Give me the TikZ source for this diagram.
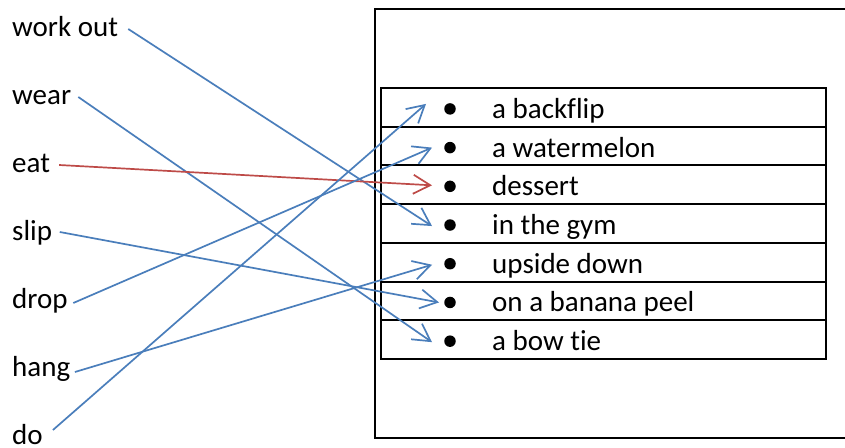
\documentclass[tikz,border=0pt]{standalone}
\usepackage{fontspec}
\setmainfont{Carlito}[Ligatures={NoCommon}]
\usetikzlibrary{arrows.meta}
\definecolor{lblue}{HTML}{4A7EBB}
\definecolor{lred}{HTML}{BE4B48}
\begin{document}
\begin{tikzpicture}[x=1pt,y=-1pt,
  lbl/.style={anchor=base west, inner sep=0pt, font=\fontsize{29}{34}\selectfont},
  rowbox/.style={draw, line width=2pt, minimum width=445pt, minimum height=38.71pt, inner sep=0pt},
  dotmark/.style={circle, fill=black, inner sep=0pt, minimum size=11.5pt},
  conn/.style={line width=1.7pt, draw=lblue, -{Straight Barb[length=17pt,width=19pt,line width=1.7pt]}},
  connred/.style={conn, draw=lred}]
\useasboundingbox (0,0) rectangle (845,447);
\clip (0,0) rectangle (845,447);
\fill[white] (0,0) rectangle (845,447);
% outer frame (its right side lies beyond the picture)
\draw[line width=2pt] (375,9) rectangle (880,438);
% left words
\node[lbl] (wo)   at (12,36)  {work out};
\node[lbl] (wear) at (12,104) {wear};
\node[lbl] (eat)  at (12,172) {eat};
\node[lbl] (slip) at (12,240) {slip};
\node[lbl] (drop) at (12,308) {drop};
\node[lbl] (hang) at (12,376) {hang};
\node[lbl] (do)   at (12,444) {do};
% table rows
\foreach \i/\t in {1/a backflip,2/a watermelon,3/dessert,4/in the gym,5/upside down,6/on a banana peel,7/a bow tie}{
  \node[rowbox] (r\i) at (603.5,{107.4+38.71*(\i-1)}) {};
  \node[dotmark] (b\i) at (450,{108.9+38.71*(\i-1)}) {};
  \node[lbl] (t\i) at (492,{118.3+38.71*(\i-1)}) {\t};
}
% connectors
\draw[conn] ([shift={(10,-7)}]wo.base east)   -- ([shift={(-18,1)}]b4.center);
\draw[conn] ([shift={(7,-7)}]wear.base east)  -- ([shift={(-18,1)}]b7.center);
\draw[connred] ([shift={(9,-7)}]eat.base east) -- ([shift={(-18,-1)}]b3.center);
\draw[conn] ([shift={(7.5,-8)}]slip.base east) -- ([shift={(-11,0)}]b6.center);
\draw[conn] ([shift={(5.5,-5)}]drop.base east) -- ([shift={(-18,0)}]b2.center);
\draw[conn] ([shift={(4.5,-4)}]hang.base east) -- ([shift={(-18,1)}]b5.center);
\draw[conn] ([shift={(10,-14)}]do.base east)  -- ([shift={(-24,-5)}]b1.center);
\end{tikzpicture}
\end{document}
